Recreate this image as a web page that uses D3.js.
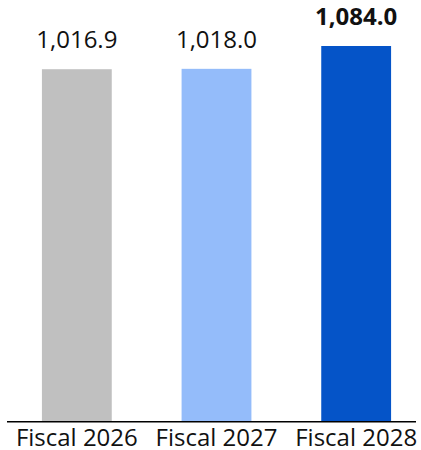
<!DOCTYPE html>
<html><head><meta charset="utf-8">
<script src="https://cdn.jsdelivr.net/npm/d3@7"></script>
<style>html,body{margin:0;padding:0;background:#fff;}svg{display:block;}</style>
</head><body>
<svg id="chart" width="421" height="450"></svg>
<script>
const categories = ["Fiscal 2026", "Fiscal 2027", "Fiscal 2028"];
const values = [1016.9, 1018.0, 1084.0];
const valueLabels = ["1,016.9", "1,018.0", "1,084.0"];
const colors = ["#c0c0c0", "#94bcfa", "#0554c8"];
const boldFlags = [false, false, true];

const svg = d3.select("#chart");
const font = "'Open Sans', 'Noto Sans', sans-serif";

const x = d3.scaleBand().domain(categories).range([7, 426]).paddingInner(0.5).paddingOuter(0.25);
const y = d3.scaleLinear().domain([0, 1084]).range([421, 46]);

svg.selectAll("rect.bar").data(values).enter().append("rect")
  .attr("class", "bar")
  .attr("x", (d, i) => x(categories[i]))
  .attr("width", x.bandwidth())
  .attr("y", d => y(d))
  .attr("height", d => y(0) - y(d))
  .attr("fill", (d, i) => colors[i]);

svg.selectAll("text.val").data(values).enter().append("text")
  .attr("class", "val")
  .attr("x", (d, i) => x(categories[i]) + x.bandwidth() / 2)
  .attr("y", d => y(d) - 21)
  .attr("text-anchor", "middle")
  .attr("font-family", font)
  .attr("font-size", 24)
  .attr("font-weight", (d, i) => boldFlags[i] ? "bold" : "normal")
  .attr("fill", "#111")
  .text((d, i) => valueLabels[i]);

const axis = d3.axisBottom(x).tickSize(0).tickPadding(0);
const g = svg.append("g").attr("transform", `translate(0,${y(0)})`).call(axis);
g.select(".domain").remove();
g.selectAll("text")
  .attr("font-family", font)
  .attr("font-size", 24)
  .attr("fill", "#111")
  .attr("dy", null)
  .attr("y", 24.5);

svg.append("line")
  .attr("x1", 7).attr("x2", 416)
  .attr("y1", y(0) + 0.75).attr("y2", y(0) + 0.75)
  .attr("stroke", "#000").attr("stroke-width", 1.5);
</script>
</body></html>
